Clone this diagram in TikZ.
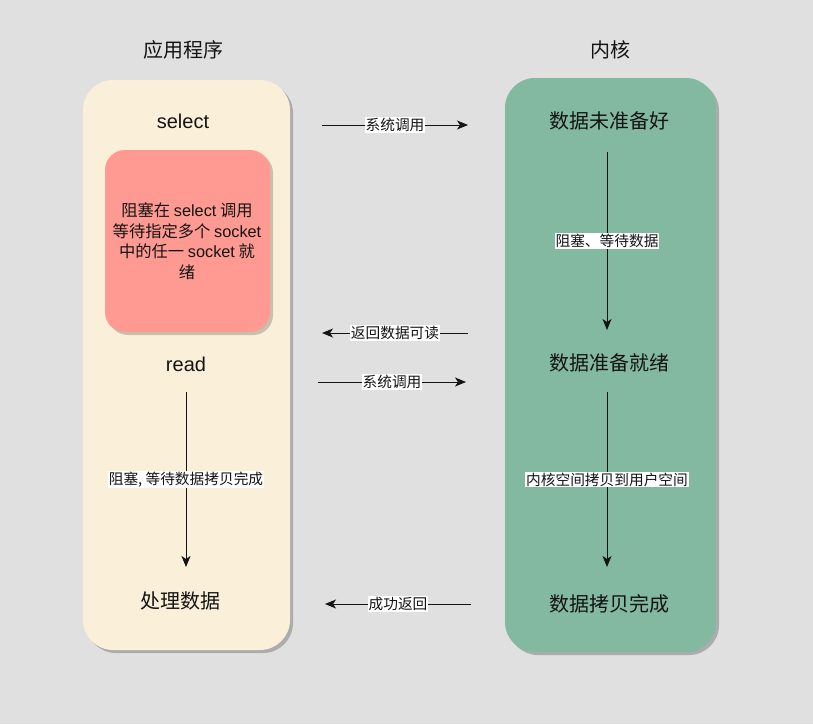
\documentclass[tikz,border=0pt]{standalone}
\usepackage{fontspec}
\setmainfont{Noto Sans CJK SC}
\newfontfamily\latinfont{Liberation Sans}
\usepackage{xcolor}
\usetikzlibrary{arrows.meta, positioning}
\definecolor{IOBackGray}{RGB}{224, 224, 224}
\definecolor{IOAppCream}{RGB}{250, 239, 217}
\definecolor{IOKernelGreen}{RGB}{130, 185, 160}
\definecolor{IOBlockRed}{RGB}{255, 154, 146}
\definecolor{IOShadow}{RGB}{172, 172, 172}
\definecolor{IOText}{RGB}{20, 20, 20}

\begin{document}
\begin{tikzpicture}[x=1pt, y=-1pt,
  steptext/.style={text=IOText, font=\fontsize{20}{24}\selectfont},
  calllabel/.style={fill=white, text=IOText, inner sep=1pt, font=\fontsize{14.7}{17}\selectfont},
  flow/.style={-{Stealth[length=11pt, width=9pt, inset=3pt]}, line width=1pt, IOText}]
  \path[use as bounding box] (0,0) rectangle (813,724);
  \fill[IOBackGray] (0,0) rectangle (813,724);

  % panels
  \fill[IOShadow, rounded corners=30pt] (86,83) rectangle (293,653);
  \fill[IOAppCream, rounded corners=30pt] (83,80) rectangle (290,650);
  \fill[IOShadow, rounded corners=30pt] (508,81) rectangle (719,655);
  \fill[IOKernelGreen, rounded corners=30pt] (505,78) rectangle (716,652);
  \fill[black, opacity=0.2, rounded corners=20pt] (108,153) rectangle (273,335);
  \fill[IOBlockRed, rounded corners=20pt] (105,150) rectangle (270,332);

  \node[steptext] (appTitle) at (183,50) {应用程序};
  \node[steptext] (kernelTitle) at (610,50) {内核};

  \node[steptext] (selectCall) at (183,121) {\latinfont select};
  \node[align=center, text=IOText, font=\fontsize{16.3}{20.5}\selectfont] (blockText) at (187,241)
    {阻塞在 {\latinfont select} 调用\\等待指定多个 {\latinfont socket}\\中的任一 {\latinfont socket} 就\\绪};
  \node[steptext] (readCall) at (186,364) {\latinfont read};
  \node[steptext] (processData) at (180,601) {处理数据};

  \node[steptext] (notReady) at (609,121) {数据未准备好};
  \node[steptext] (dataReady) at (609,363) {数据准备就绪};
  \node[steptext] (copyDone) at (609,604) {数据拷贝完成};

  % connectors
  \coordinate (selectOut) at (322,125);
  \coordinate (selectIn) at (468,125);
  \coordinate (readableOut) at (468,333);
  \coordinate (readableIn) at (322,333);
  \coordinate (readOut) at (318,382);
  \coordinate (readIn) at (466,382);
  \coordinate (doneOut) at (471,604);
  \coordinate (doneIn) at (325,604);
  \coordinate (waitTop) at (607,152);
  \coordinate (waitEnd) at (607,330);
  \coordinate (copyTop) at (607,392);
  \coordinate (copyEnd) at (607,567);
  \coordinate (appTop) at (186,392);
  \coordinate (appEnd) at (186,567);

  \draw[flow] (selectOut) -- node[calllabel] {系统调用} (selectIn);
  \draw[flow] (readableOut) -- node[calllabel] {返回数据可读} (readableIn);
  \draw[flow] (readOut) -- node[calllabel] {系统调用} (readIn);
  \draw[flow] (doneOut) -- node[calllabel] {成功返回} (doneIn);
  \draw[flow] (waitTop) -- node[calllabel] {阻塞、等待数据} (waitEnd);
  \draw[flow] (copyTop) -- node[calllabel] {内核空间拷贝到用户空间} (copyEnd);
  \draw[flow] (appTop) -- node[calllabel] {阻塞, 等待数据拷贝完成} (appEnd);
\end{tikzpicture}
\end{document}
